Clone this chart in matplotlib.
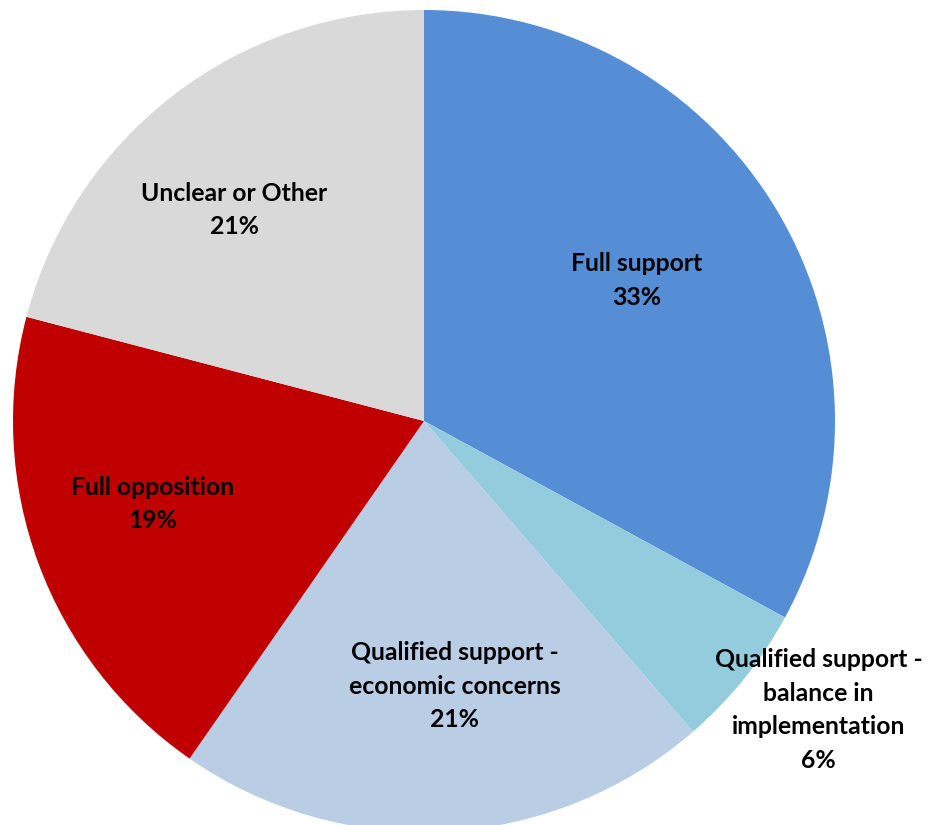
import numpy as np
import matplotlib
matplotlib.use('Agg')
import matplotlib.pyplot as plt

labels = ['Full support', 'Qualified support -\nbalance in\nimplementation',
          'Qualified support -\neconomic concerns', 'Full opposition', 'Unclear or Other']
values = [32.9, 5.7, 21.0, 19.4, 20.9]
colors = ['#558ED5', '#93CDDD', '#B9CDE5', '#C00000', '#D9D9D9']

# label placement: distance from centre (radii) and angular nudge (deg)
label_dist = [0.62, 1.19, 0.65, 0.69, 0.69]
label_shift = [2.7, 2.6, 3.5, -3.2, 4.3]

W, H = 927, 825
cx, cy, r = 424, 421, 411

fig = plt.figure(figsize=(W / 100, H / 100), dpi=100)
ax = fig.add_axes([0, 0, 1, 1])

wedges, _ = ax.pie(values, colors=colors, startangle=90, counterclock=False,
                   radius=1, center=(0, 0), frame=True)
ax.set_xlim(-cx / r, (W - cx) / r)
ax.set_ylim(-(H - cy) / r, cy / r)
ax.set_aspect('equal')
ax.axis('off')

for w, lab, v, d, s in zip(wedges, labels, values, label_dist, label_shift):
    mid = np.deg2rad((w.theta1 + w.theta2) / 2 + s)
    ax.text(d * np.cos(mid), d * np.sin(mid), f'{lab}\n{v:.0f}%',
            ha='center', va='center', fontsize=17.8, fontweight='bold',
            family=['Lato', 'DejaVu Sans'], linespacing=1.55)

fig.savefig('out.png', dpi=100)
